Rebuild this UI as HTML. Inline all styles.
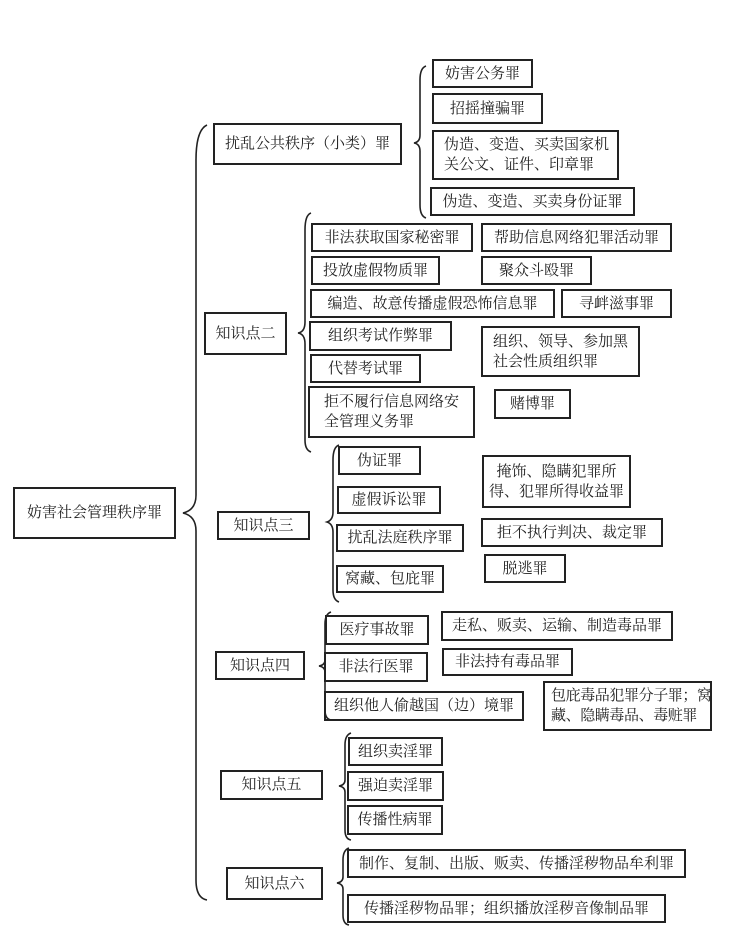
<!DOCTYPE html>
<html><head><meta charset="utf-8"><style>
body{margin:0;background:#fff;width:744px;height:952px;position:relative;overflow:hidden;font-family:"Liberation Serif","Noto Serif CJK SC","Noto Sans CJK SC",serif;color:#222}
.b{position:absolute;box-sizing:border-box;border:2px solid #222;display:flex;align-items:center;justify-content:center;font-size:15px;line-height:20px;white-space:nowrap}
.l{justify-content:flex-start;padding-left:10px}
svg{position:absolute;left:0;top:0}
</style></head><body>
<svg width="744" height="952" fill="none" stroke="#222" stroke-width="1.6">
<path d="M207,125 Q196,130 196,160 L196,495 Q196,510 183,513 Q196,516 196,531 L196,880 Q196,898 207,900"/>
<path d="M426,66 Q420,68 420,80 L420,135 Q420,142 414,143 Q420,144 420,151 L420,205 Q420,216 426,218"/>
<path d="M311,213 Q305,215 305,230 L305,322 Q305,332 298,333 Q305,334 305,344 L305,440 Q305,450 311,452"/>
<path d="M339,445 Q333,447 333,460 L333,512 Q333,520 327,522 Q333,524 333,532 L333,590 Q333,600 339,602"/>
<path d="M331,612 Q325,614 325,624 L325,660 Q325,665 319,666 Q325,667 325,672 L325,710 Q325,719 331,720"/>
<path d="M351,733 Q345,735 345,745 L345,780 Q345,785 339,786 Q345,787 345,792 L345,830 Q345,839 351,840"/>
<path d="M349,848 Q343,850 343,860 L343,877 Q343,882 337,883 Q343,884 343,889 L343,915 Q343,924 349,925"/>
</svg>
<div class="b" style="left:13px;top:487px;width:163px;height:52px">妨害社会管理秩序罪</div>
<div class="b" style="left:213px;top:123px;width:189px;height:42px">扰乱公共秩序（小类）罪</div>
<div class="b" style="left:432px;top:59px;width:101px;height:29px">妨害公务罪</div>
<div class="b" style="left:432px;top:93px;width:111px;height:31px">招摇撞骗罪</div>
<div class="b l" style="left:432px;top:130px;width:187px;height:50px">伪造、变造、买卖国家机<br>关公文、证件、印章罪</div>
<div class="b" style="left:430px;top:187px;width:205px;height:29px">伪造、变造、买卖身份证罪</div>
<div class="b" style="left:204px;top:312px;width:83px;height:43px">知识点二</div>
<div class="b" style="left:311px;top:223px;width:162px;height:29px">非法获取国家秘密罪</div>
<div class="b" style="left:481px;top:223px;width:191px;height:29px">帮助信息网络犯罪活动罪</div>
<div class="b" style="left:311px;top:256px;width:129px;height:29px">投放虚假物质罪</div>
<div class="b" style="left:481px;top:256px;width:111px;height:29px">聚众斗殴罪</div>
<div class="b" style="left:310px;top:289px;width:245px;height:29px">编造、故意传播虚假恐怖信息罪</div>
<div class="b" style="left:561px;top:289px;width:111px;height:29px">寻衅滋事罪</div>
<div class="b" style="left:309px;top:321px;width:143px;height:30px">组织考试作弊罪</div>
<div class="b l" style="left:481px;top:326px;width:159px;height:51px">组织、领导、参加黑<br>社会性质组织罪</div>
<div class="b" style="left:310px;top:354px;width:111px;height:29px">代替考试罪</div>
<div class="b" style="left:308px;top:386px;width:167px;height:52px;flex-direction:column">拒不履行信息网络安<br>全管理义务罪</div>
<div class="b" style="left:494px;top:389px;width:77px;height:30px">赌博罪</div>
<div class="b" style="left:217px;top:511px;width:93px;height:29px">知识点三</div>
<div class="b" style="left:338px;top:446px;width:83px;height:29px">伪证罪</div>
<div class="b" style="left:337px;top:486px;width:104px;height:28px">虚假诉讼罪</div>
<div class="b" style="left:336px;top:524px;width:128px;height:28px">扰乱法庭秩序罪</div>
<div class="b" style="left:336px;top:565px;width:108px;height:28px">窝藏、包庇罪</div>
<div class="b" style="left:482px;top:455px;width:149px;height:53px;text-align:center">掩饰、隐瞒犯罪所<br>得、犯罪所得收益罪</div>
<div class="b" style="left:481px;top:518px;width:182px;height:29px">拒不执行判决、裁定罪</div>
<div class="b" style="left:484px;top:554px;width:82px;height:29px">脱逃罪</div>
<div class="b" style="left:215px;top:651px;width:90px;height:29px">知识点四</div>
<div class="b" style="left:325px;top:615px;width:104px;height:30px">医疗事故罪</div>
<div class="b" style="left:324px;top:652px;width:104px;height:30px">非法行医罪</div>
<div class="b" style="left:324px;top:691px;width:200px;height:30px">组织他人偷越国（边）境罪</div>
<div class="b" style="left:441px;top:611px;width:232px;height:30px">走私、贩卖、运输、制造毒品罪</div>
<div class="b" style="left:442px;top:648px;width:131px;height:28px">非法持有毒品罪</div>
<div class="b l" style="left:543px;top:681px;width:169px;height:50px;padding-left:6px;letter-spacing:-0.4px">包庇毒品犯罪分子罪；窝<br>藏、隐瞒毒品、毒赃罪</div>
<div class="b" style="left:220px;top:770px;width:103px;height:30px">知识点五</div>
<div class="b" style="left:348px;top:737px;width:95px;height:29px">组织卖淫罪</div>
<div class="b" style="left:347px;top:771px;width:97px;height:30px">强迫卖淫罪</div>
<div class="b" style="left:347px;top:805px;width:96px;height:30px">传播性病罪</div>
<div class="b" style="left:226px;top:867px;width:97px;height:33px">知识点六</div>
<div class="b" style="left:347px;top:849px;width:339px;height:29px">制作、复制、出版、贩卖、传播淫秽物品牟利罪</div>
<div class="b" style="left:347px;top:894px;width:319px;height:29px">传播淫秽物品罪；组织播放淫秽音像制品罪</div>
</body></html>
